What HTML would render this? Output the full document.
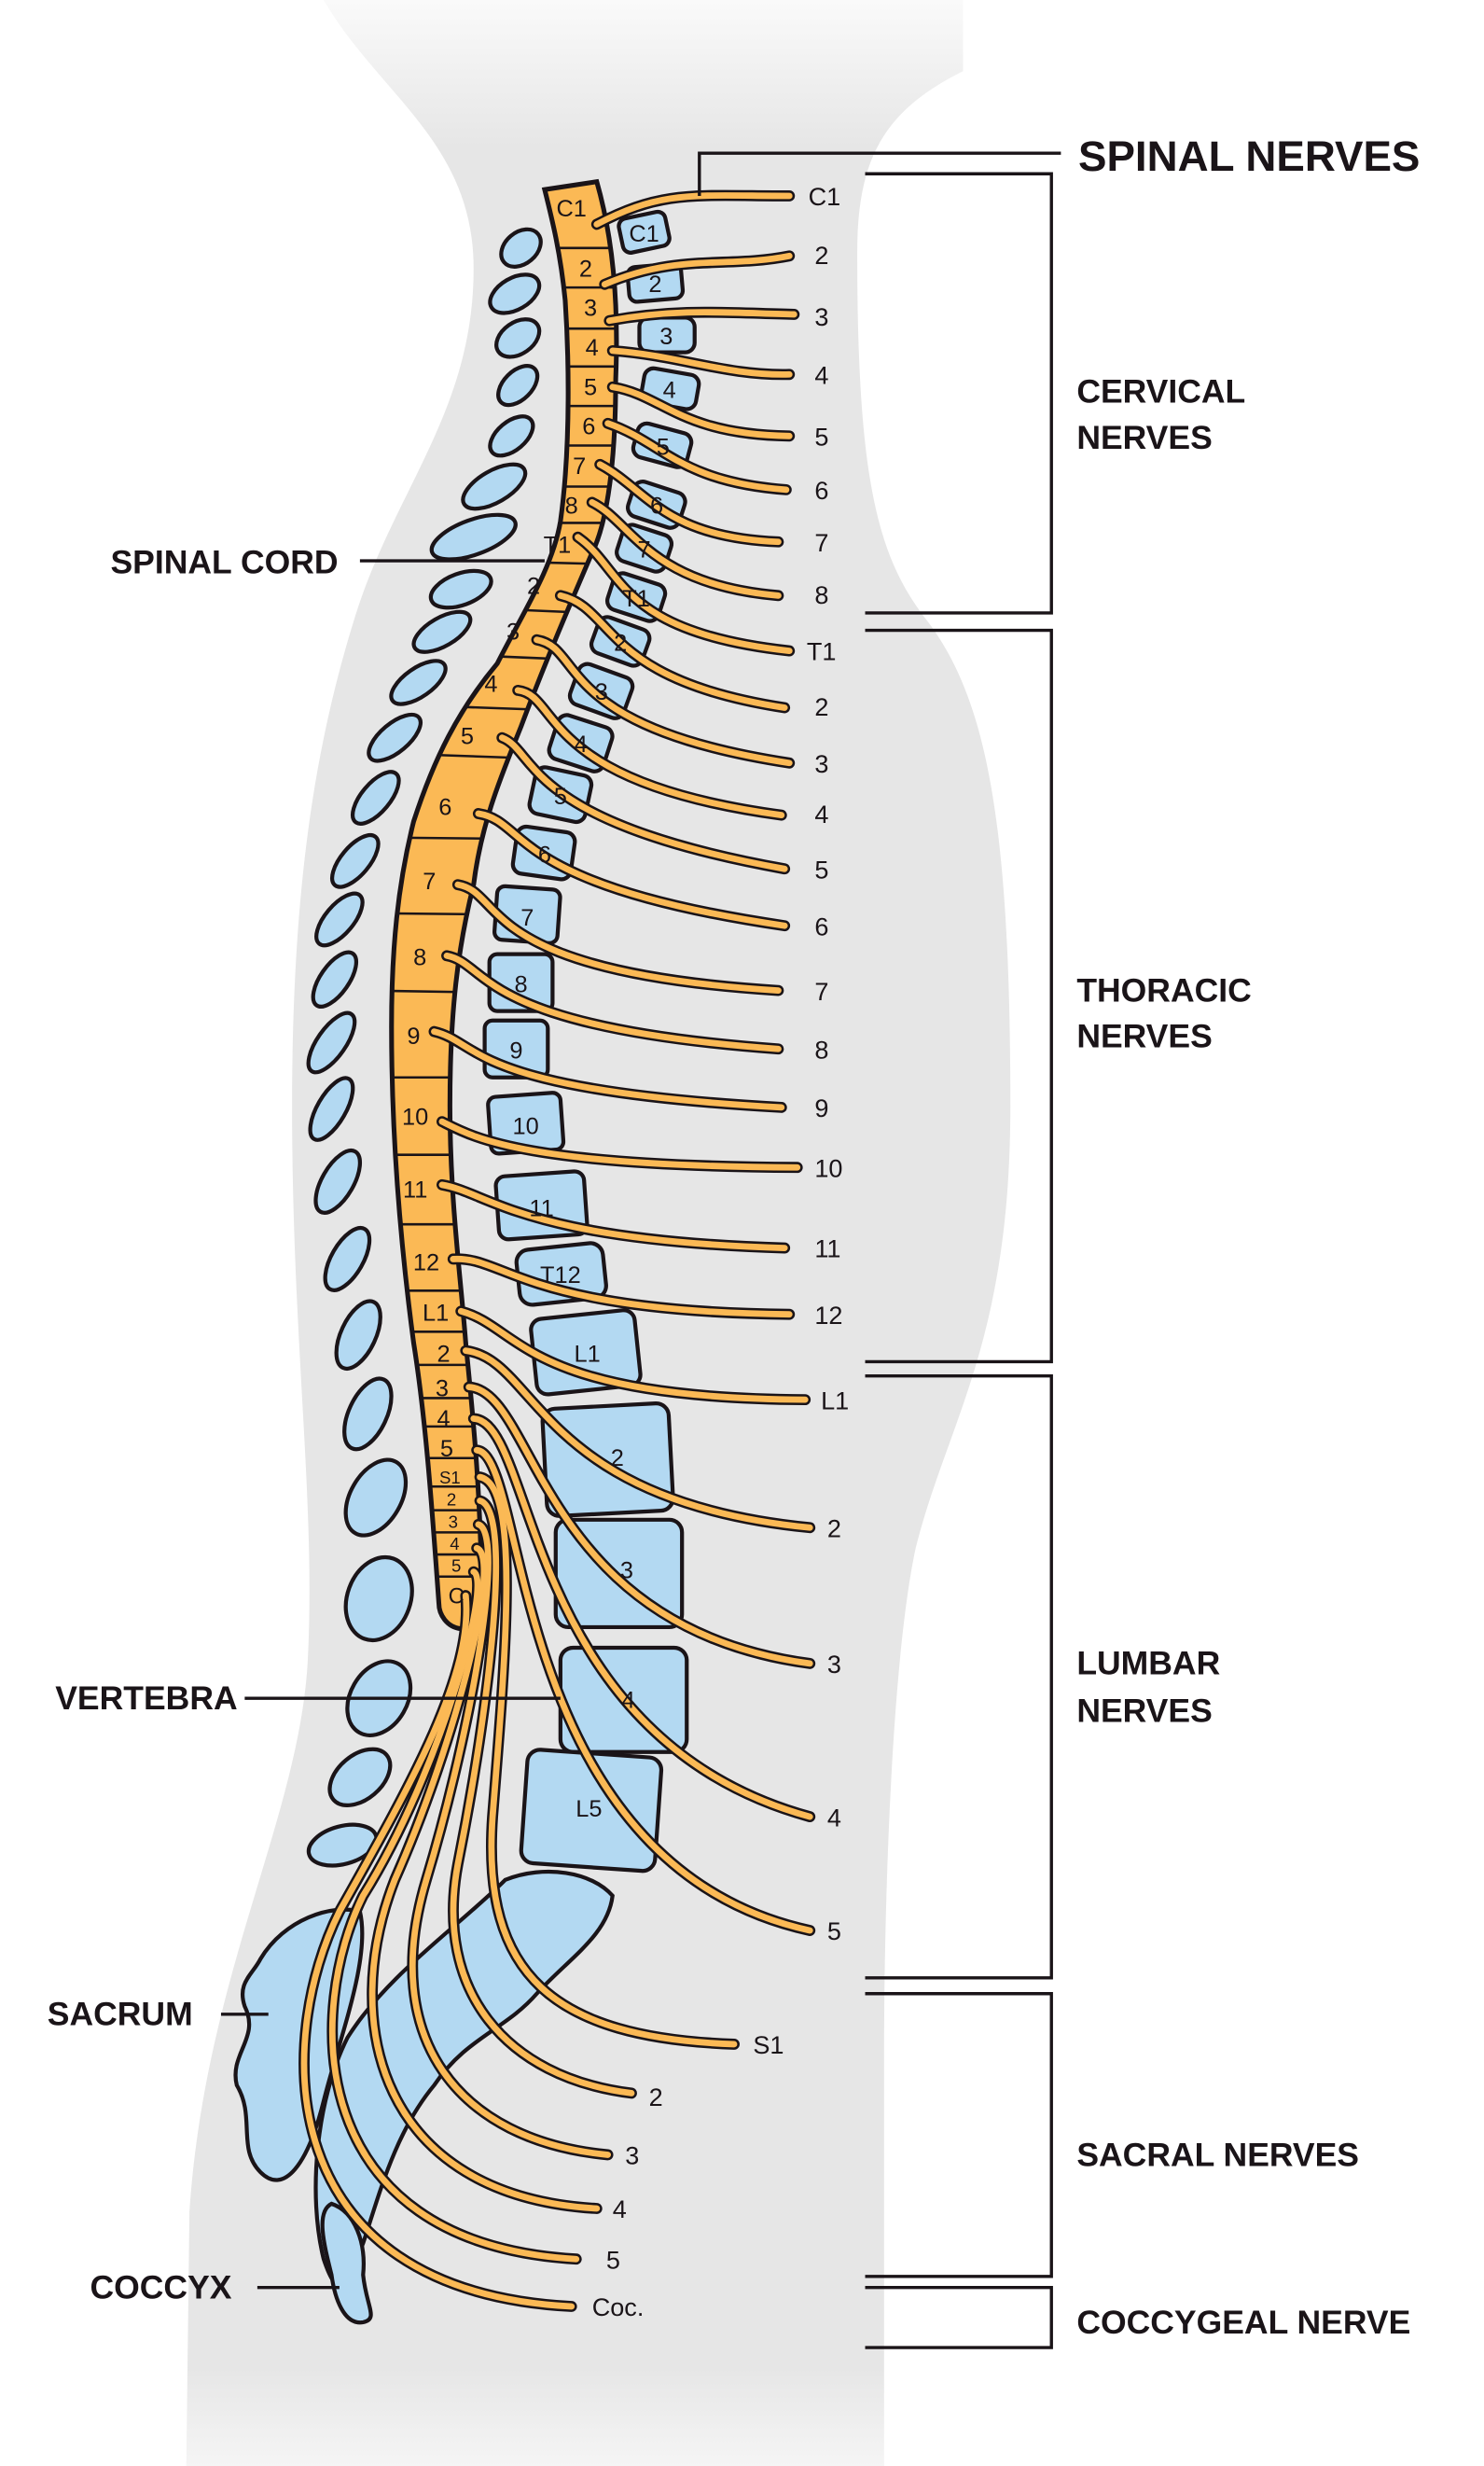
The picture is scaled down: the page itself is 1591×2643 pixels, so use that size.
<!DOCTYPE html>
<html><head><meta charset="utf-8"><style>
html,body{margin:0;padding:0;background:#fff;}
svg{display:block;}
.lbl{font-family:"Liberation Sans",sans-serif;font-weight:bold;fill:#1a1418;}
.num{font-family:"Liberation Sans",sans-serif;fill:#1a1418;}
.n1{fill:none;stroke:#1a1418;stroke-width:7;stroke-linecap:round;}
.n2{fill:none;stroke:#fbb955;stroke-width:4;stroke-linecap:round;}
.v{fill:#b3d9f2;stroke:#1a1418;stroke-width:2.5;}
</style></head><body>
<svg width="1591" height="2643" viewBox="0 0 940 1561" preserveAspectRatio="none">
<defs>
<linearGradient id="fade" x1="0" y1="0" x2="0" y2="1"><stop offset="0" stop-color="#e6e6e6" stop-opacity="0.2"/><stop offset="0.06" stop-color="#e6e6e6"/><stop offset="0.96" stop-color="#e6e6e6"/><stop offset="1" stop-color="#e6e6e6" stop-opacity="0.4"/></linearGradient>
<clipPath id="cc"><path id="cordp" d="M345,120 L378,115 C388,150 392,190 390,240 C390,290 385,330 375,350 C360,385 345,420 330,460 C318,490 305,520 300,560 C290,600 285,640 285,700 C285,760 292,810 295,850 C300,900 305,950 305,1015 C305,1028 298,1032 292,1031 C283,1030 278,1022 278,1015 C274,960 270,900 262,850 C254,790 248,720 248,650 C248,600 252,560 262,520 C275,480 290,450 315,420 C330,390 350,360 355,330 C362,280 360,220 358,190 C355,160 350,140 345,120 Z"/></clipPath>
</defs>
<rect width="940" height="1561" fill="#fff"/>
<path d="M205,0 C240,60 300,90 300,170 C300,260 250,310 225,390 C200,470 185,560 185,700 C185,850 200,950 195,1050 C190,1150 130,1250 120,1400 L118,1561 L560,1561 L560,1300 C560,1200 565,1050 580,980 C600,900 640,850 640,700 C640,520 625,440 585,390 C555,350 543,300 543,160 C543,100 560,70 610,45 L610,0 Z" fill="url(#fade)"/>

<!-- spinous processes -->
<g class="v">
<ellipse cx="330" cy="157" rx="14" ry="10" transform="rotate(-40 330 157)"/>
<ellipse cx="326" cy="186" rx="17" ry="10" transform="rotate(-30 326 186)"/>
<ellipse cx="328" cy="214" rx="15" ry="10" transform="rotate(-35 328 214)"/>
<ellipse cx="328" cy="244" rx="15" ry="9" transform="rotate(-45 328 244)"/>
<ellipse cx="324" cy="276" rx="16" ry="9" transform="rotate(-40 324 276)"/>
<ellipse cx="313" cy="308" rx="22" ry="10" transform="rotate(-30 313 308)"/>
<ellipse cx="300" cy="340" rx="28" ry="11" transform="rotate(-20 300 340)"/>
<ellipse cx="292" cy="373" rx="20" ry="10" transform="rotate(-20 292 373)"/>
<ellipse cx="280" cy="400" rx="20" ry="9" transform="rotate(-30 280 400)"/>
<ellipse cx="265" cy="432" rx="20" ry="9" transform="rotate(-35 265 432)"/>
<ellipse cx="250" cy="467" rx="20" ry="9" transform="rotate(-40 250 467)"/>
<ellipse cx="238" cy="505" rx="20" ry="9" transform="rotate(-50 238 505)"/>
<ellipse cx="225" cy="545" rx="20" ry="9" transform="rotate(-50 225 545)"/>
<ellipse cx="215" cy="582" rx="20" ry="9" transform="rotate(-50 215 582)"/>
<ellipse cx="212" cy="620" rx="20" ry="9" transform="rotate(-55 212 620)"/>
<ellipse cx="210" cy="660" rx="22" ry="9" transform="rotate(-55 210 660)"/>
<ellipse cx="210" cy="702" rx="22" ry="9" transform="rotate(-60 210 702)"/>
<ellipse cx="214" cy="748" rx="22" ry="10" transform="rotate(-60 214 748)"/>
<ellipse cx="220" cy="797" rx="22" ry="10" transform="rotate(-60 220 797)"/>
<ellipse cx="227" cy="845" rx="23" ry="11" transform="rotate(-65 227 845)"/>
<ellipse cx="233" cy="895" rx="24" ry="12" transform="rotate(-65 233 895)"/>
<ellipse cx="238" cy="948" rx="26" ry="16" transform="rotate(-60 238 948)"/>
<ellipse cx="240" cy="1012" rx="27" ry="20" transform="rotate(-70 240 1012)"/>
<ellipse cx="240" cy="1075" rx="25" ry="18" transform="rotate(-60 240 1075)"/>
<ellipse cx="228" cy="1125" rx="22" ry="14" transform="rotate(-40 228 1125)"/>
<ellipse cx="217" cy="1168" rx="22" ry="12" transform="rotate(-15 217 1168)"/>
</g>

<!-- vertebral bodies -->
<g class="v">
<rect x="393" y="136" width="30" height="22" rx="5" transform="rotate(-12 408 147)"/>
<rect x="398" y="168" width="34" height="22" rx="5" transform="rotate(-5 415 179)"/>
<rect x="405" y="201" width="35" height="22" rx="6"/>
<rect x="407" y="235" width="35" height="22" rx="6" transform="rotate(10 424 246)"/>
<rect x="402" y="271" width="35" height="22" rx="6" transform="rotate(15 420 282)"/>
<rect x="399" y="308" width="34" height="23" rx="6" transform="rotate(18 416 319)"/>
<rect x="392" y="335" width="32" height="24" rx="6" transform="rotate(18 408 347)"/>
<rect x="386" y="366" width="34" height="24" rx="6" transform="rotate(18 403 378)"/>
<rect x="376" y="394" width="34" height="24" rx="6" transform="rotate(20 393 406)"/>
<rect x="363" y="424" width="36" height="27" rx="6" transform="rotate(20 381 437)"/>
<rect x="350" y="456" width="36" height="29" rx="6" transform="rotate(18 368 470)"/>
<rect x="337" y="488" width="36" height="30" rx="6" transform="rotate(12 355 503)"/>
<rect x="326" y="525" width="37" height="30" rx="6" transform="rotate(8 345 540)"/>
<rect x="314" y="562" width="40" height="34" rx="5" transform="rotate(4 334 579)"/>
<rect x="310" y="604" width="40" height="36" rx="5"/>
<rect x="307" y="646" width="40" height="36" rx="5"/>
<rect x="310" y="693" width="46" height="36" rx="5" transform="rotate(-4 333 711)"/>
<rect x="315" y="743" width="56" height="40" rx="6" transform="rotate(-4 343 763)"/>
<rect x="328" y="789" width="55" height="35" rx="8" transform="rotate(-6 355 806)"/>
<rect x="338" y="832" width="66" height="48" rx="7" transform="rotate(-6 371 856)"/>
<rect x="345" y="890" width="80" height="68" rx="8" transform="rotate(-3 385 924)"/>
<rect x="352" y="962" width="80" height="68" rx="8"/>
<rect x="355" y="1043" width="80" height="66" rx="8"/>
<rect x="332" y="1110" width="85" height="72" rx="8" transform="rotate(4 375 1146)"/>
<!-- sacrum -->
<path d="M320,1190 C345,1180 375,1185 388,1200 C385,1225 360,1240 340,1262 C320,1285 295,1290 275,1320 C250,1350 240,1390 230,1420 C220,1445 215,1460 205,1430 C195,1390 200,1330 220,1290 C245,1250 290,1220 320,1190 Z"/>
<path d="M165,1240 C180,1215 210,1205 228,1210 C235,1240 215,1290 205,1330 C195,1370 180,1390 165,1375 C150,1360 162,1340 150,1320 C145,1300 165,1290 155,1270 C150,1255 160,1250 165,1240 Z"/>
<path d="M210,1395 C225,1400 232,1420 230,1440 C232,1460 240,1468 230,1470 C218,1472 212,1455 210,1440 C205,1420 200,1400 210,1395 Z"/>
</g>

<!-- cord -->
<use href="#cordp" fill="#fbb955" stroke="#1a1418" stroke-width="3"/>
<g clip-path="url(#cc)" stroke="#1a1418" stroke-width="1.5">
<line x1="300" y1="157" x2="420" y2="157"/><line x1="300" y1="182" x2="420" y2="182"/><line x1="300" y1="208" x2="420" y2="208"/><line x1="300" y1="232" x2="420" y2="232"/><line x1="300" y1="257" x2="420" y2="257"/><line x1="300" y1="282" x2="420" y2="282"/><line x1="300" y1="308" x2="420" y2="308"/><line x1="300" y1="331" x2="420" y2="331"/><line x1="300" y1="355" x2="420" y2="358"/><line x1="280" y1="384" x2="420" y2="390"/><line x1="280" y1="414" x2="420" y2="420"/><line x1="250" y1="446" x2="420" y2="452"/><line x1="250" y1="477" x2="420" y2="483"/><line x1="230" y1="530" x2="420" y2="532"/><line x1="230" y1="578" x2="420" y2="580"/><line x1="230" y1="627" x2="420" y2="630"/><line x1="230" y1="682" x2="420" y2="682"/><line x1="230" y1="731" x2="420" y2="731"/><line x1="230" y1="775" x2="420" y2="775"/><line x1="230" y1="817" x2="420" y2="817"/><line x1="230" y1="843" x2="420" y2="843"/><line x1="230" y1="864" x2="420" y2="864"/><line x1="230" y1="885" x2="420" y2="885"/><line x1="230" y1="903" x2="420" y2="903"/><line x1="230" y1="923" x2="420" y2="923"/><line x1="230" y1="941" x2="420" y2="941"/><line x1="230" y1="956" x2="420" y2="956"/><line x1="230" y1="970" x2="420" y2="970"/><line x1="230" y1="984" x2="420" y2="984"/><line x1="230" y1="998" x2="420" y2="998"/>
</g>

<!-- nerves -->
<defs>
<path id="a1" d="M378,142 C420,120 440,124 500,124"/>
<path id="a2" d="M383,180 C430,160 460,170 500,162"/>
<path id="a3" d="M386,203 C430,195 460,198 503,199"/>
<path id="a4" d="M388,222 C430,225 460,238 500,237"/>
<path id="a5" d="M388,245 C420,250 430,275 500,276"/>
<path id="a6" d="M385,268 C420,280 430,305 498,310"/>
<path id="a7" d="M380,294 C410,310 420,340 493,343"/>
<path id="a8" d="M375,318 C400,330 410,370 493,377"/>
<path id="b1" d="M366,340 C395,360 390,400 500,412"/>
<path id="b2" d="M355,377 C390,385 380,430 497,448"/>
<path id="b3" d="M340,405 C370,410 350,460 500,483"/>
<path id="b4" d="M328,437 C355,440 340,495 495,516"/>
<path id="b5" d="M318,467 C340,475 330,520 497,550"/>
<path id="b6" d="M303,515 C335,520 320,560 497,586"/>
<path id="b7" d="M290,560 C320,565 300,615 493,627"/>
<path id="b8" d="M283,605 C310,610 300,650 493,664"/>
<path id="b9" d="M275,653 C305,660 295,690 495,701"/>
<path id="b10" d="M280,710 C300,720 330,738 505,739"/>
<path id="b11" d="M280,750 C310,755 330,785 497,790"/>
<path id="b12" d="M287,797 C320,795 330,830 500,832"/>
<path id="c1" d="M292,830 C330,840 330,885 510,886"/>
<path id="c2" d="M295,855 C340,860 340,950 513,967"/>
<path id="c3" d="M297,878 C340,880 340,1030 513,1053"/>
<path id="c4" d="M300,898 C340,900 330,1100 513,1150"/>
<path id="c5" d="M302,918 C335,920 320,1180 513,1222"/>
<path id="d1" d="M304,935 C330,940 320,1050 312,1150 C305,1250 350,1290 465,1294"/>
<path id="d2" d="M304,950 C325,955 310,1080 290,1180 C275,1260 320,1315 400,1325"/>
<path id="d3" d="M303,965 C320,970 300,1090 270,1190 C240,1290 290,1355 385,1364"/>
<path id="d4" d="M302,980 C318,985 290,1100 250,1190 C215,1280 240,1390 378,1398"/>
<path id="d5" d="M300,995 C312,1000 280,1120 230,1200 C195,1270 190,1420 365,1430"/>
<path id="d6" d="M295,1010 C300,1060 260,1130 215,1210 C175,1290 170,1450 362,1460"/>
</defs>
<g class="n1"><use href="#d6"/><use href="#d5"/><use href="#d4"/><use href="#d3"/><use href="#d2"/><use href="#d1"/><use href="#c5"/><use href="#c4"/><use href="#c3"/><use href="#c2"/><use href="#c1"/><use href="#b12"/><use href="#b11"/><use href="#b10"/><use href="#b9"/><use href="#b8"/><use href="#b7"/><use href="#b6"/><use href="#b5"/><use href="#b4"/><use href="#b3"/><use href="#b2"/><use href="#b1"/><use href="#a8"/><use href="#a7"/><use href="#a6"/><use href="#a5"/><use href="#a4"/><use href="#a3"/><use href="#a2"/><use href="#a1"/></g>
<g class="n2"><use href="#d6"/><use href="#d5"/><use href="#d4"/><use href="#d3"/><use href="#d2"/><use href="#d1"/><use href="#c5"/><use href="#c4"/><use href="#c3"/><use href="#c2"/><use href="#c1"/><use href="#b12"/><use href="#b11"/><use href="#b10"/><use href="#b9"/><use href="#b8"/><use href="#b7"/><use href="#b6"/><use href="#b5"/><use href="#b4"/><use href="#b3"/><use href="#b2"/><use href="#b1"/><use href="#a8"/><use href="#a7"/><use href="#a6"/><use href="#a5"/><use href="#a4"/><use href="#a3"/><use href="#a2"/><use href="#a1"/></g>

<!-- cord labels -->
<g class="num" font-size="15" text-anchor="middle">
<text x="362" y="137">C1</text><text x="371" y="175">2</text><text x="374" y="200">3</text><text x="375" y="225">4</text><text x="374" y="250">5</text><text x="373" y="275">6</text><text x="367" y="300">7</text><text x="362" y="325">8</text><text x="353" y="350">T1</text><text x="338" y="376">2</text><text x="325" y="405">3</text><text x="311" y="438">4</text><text x="296" y="471">5</text><text x="282" y="516">6</text><text x="272" y="563">7</text><text x="266" y="611">8</text><text x="262" y="661">9</text><text x="263" y="712">10</text><text x="263" y="758">11</text><text x="270" y="804">12</text><text x="276" y="836">L1</text><text x="281" y="862">2</text><text x="280" y="884">3</text><text x="281" y="903">4</text><text x="283" y="922">5</text>
<text x="285" y="939" font-size="11">S1</text><text x="286" y="953" font-size="11">2</text><text x="287" y="967" font-size="11">3</text><text x="288" y="981" font-size="11">4</text><text x="289" y="995" font-size="11">5</text><text x="289" y="1015" font-size="14">C</text>
</g>
<!-- vertebra labels -->
<g class="num" font-size="15" text-anchor="middle">
<text x="408" y="153">C1</text><text x="415" y="185">2</text><text x="422" y="218">3</text><text x="424" y="252">4</text><text x="420" y="288">5</text><text x="416" y="325">6</text><text x="408" y="353">7</text><text x="403" y="384">T1</text><text x="393" y="412">2</text><text x="381" y="443">3</text><text x="368" y="476">4</text><text x="355" y="509">5</text><text x="345" y="546">6</text><text x="334" y="586">7</text><text x="330" y="628">8</text><text x="327" y="670">9</text><text x="333" y="718">10</text><text x="343" y="770">11</text><text x="355" y="812">T12</text><text x="372" y="862">L1</text><text x="391" y="928">2</text><text x="397" y="999">3</text><text x="398" y="1081">4</text><text x="373" y="1150">L5</text>
</g>
<!-- nerve end labels -->
<g class="num" font-size="16">
<text x="512" y="130">C1</text><text x="516" y="167">2</text><text x="516" y="206">3</text><text x="516" y="243">4</text><text x="516" y="282">5</text><text x="516" y="316">6</text><text x="516" y="349">7</text><text x="516" y="382">8</text><text x="511" y="418">T1</text><text x="516" y="453">2</text><text x="516" y="489">3</text><text x="516" y="521">4</text><text x="516" y="556">5</text><text x="516" y="592">6</text><text x="516" y="633">7</text><text x="516" y="670">8</text><text x="516" y="707">9</text><text x="516" y="745">10</text><text x="516" y="796">11</text><text x="516" y="838">12</text><text x="520" y="892">L1</text><text x="524" y="973">2</text><text x="524" y="1059">3</text><text x="524" y="1156">4</text><text x="524" y="1228">5</text><text x="477" y="1300">S1</text><text x="411" y="1333">2</text><text x="396" y="1370">3</text><text x="388" y="1404">4</text><text x="384" y="1436">5</text><text x="375" y="1466">Coc.</text>
</g>

<!-- brackets -->
<g fill="none" stroke="#1a1418" stroke-width="2">
<polyline points="443,124 443,97 672,97"/>
<polyline points="548,110 666,110 666,388 548,388"/>
<polyline points="548,399 666,399 666,862 548,862"/>
<polyline points="548,871 666,871 666,1252 548,1252"/>
<polyline points="548,1262 666,1262 666,1441 548,1441"/>
<polyline points="548,1448 666,1448 666,1486 548,1486"/>
<line x1="228" y1="355" x2="345" y2="355"/>
<line x1="155" y1="1075" x2="355" y2="1075"/>
<line x1="140" y1="1275" x2="170" y2="1275"/>
<line x1="163" y1="1448" x2="215" y2="1448"/>
</g>
<g class="lbl">
<text x="683" y="108" font-size="27">SPINAL NERVES</text>
<text x="682" y="255" font-size="21">CERVICAL</text><text x="682" y="284" font-size="21">NERVES</text>
<text x="682" y="634" font-size="21">THORACIC</text><text x="682" y="663" font-size="21">NERVES</text>
<text x="682" y="1060" font-size="21">LUMBAR</text><text x="682" y="1090" font-size="21">NERVES</text>
<text x="682" y="1371" font-size="21">SACRAL NERVES</text>
<text x="682" y="1477" font-size="21">COCCYGEAL NERVE</text>
<text x="70" y="363" font-size="21">SPINAL CORD</text>
<text x="35" y="1082" font-size="21">VERTEBRA</text>
<text x="30" y="1282" font-size="21">SACRUM</text>
<text x="57" y="1455" font-size="21">COCCYX</text>
</g>
</svg>
</body></html>
